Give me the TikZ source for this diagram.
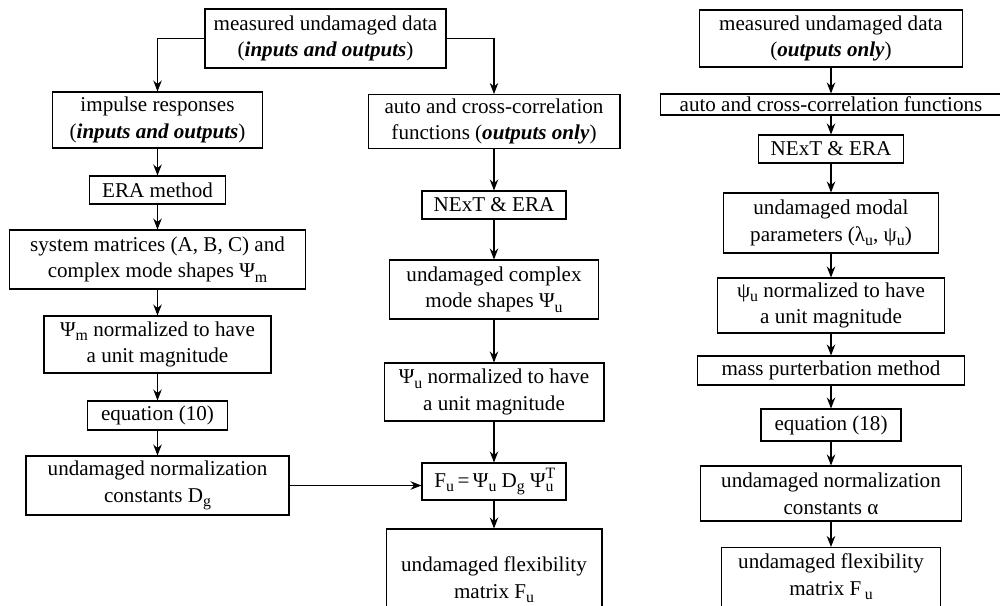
\documentclass[tikz,border=0pt]{standalone}
\usepackage{fontspec}
\setmainfont{Liberation Serif}
\usetikzlibrary{arrows.meta}
\newcommand{\bfit}[1]{\textbf{\textit{#1}}}
\newcommand{\lowsub}[1]{\raisebox{-0.45ex}{\fontsize{9}{9}\selectfont #1}}
\newcommand{\highsup}[1]{\raisebox{0.95ex}{\fontsize{9}{9}\selectfont #1}}
\begin{document}
\begin{tikzpicture}[x=0.02cm,y=-0.02cm,
    blk/.style 2 args={draw,line width=0.6pt,inner sep=0pt,align=center,
      minimum width=#1,minimum height=#2},
    link/.style={-{Stealth[length=2.2mm,width=1.7mm]},line width=0.6pt},
    every node/.append style={font=\fontsize{12}{15.2}\selectfont}]
  \useasboundingbox (0,0) rectangle (1000,605);
  % inputs and outputs
  \node[blk={4.82cm}{1.18cm}] (top) at (325.5,38.5) {measured undamaged data\\(\bfit{inputs and outputs})};
  \node[blk={4.20cm}{1.12cm}] (imp) at (157.5,120) {impulse responses\\(\bfit{inputs and outputs})};
  \node[blk={2.72cm}{0.56cm}] (era) at (157.5,190) {ERA method};
  \node[blk={5.92cm}{1.18cm}] (sys) at (157.5,259.5) {system matrices (A, B, C) and\\complex mode shapes Ψ\lowsub{m}};
  \node[blk={4.54cm}{1.14cm}] (psim) at (157.5,344.5) {Ψ\lowsub{m} normalized to have\\a unit magnitude};
  \node[blk={2.80cm}{0.58cm}] (eqten) at (157.5,415.5) {equation (10)};
  \node[blk={5.26cm}{1.18cm}] (dg) at (157.5,485.5) {undamaged normalization\\constants D\lowsub{g}};
  % outputs only, complex modes
  \node[blk={5.04cm}{1.08cm}] (auto) at (494,121.5) {auto and cross-correlation\\functions (\bfit{outputs only})};
  \node[blk={2.88cm}{0.56cm}] (next) at (494,205) {NExT \& ERA};
  \node[blk={4.18cm}{1.18cm}] (cms) at (494,289.5) {undamaged complex\\mode shapes Ψ\lowsub{u}};
  \node[blk={4.40cm}{1.16cm}] (psiu) at (494,392) {Ψ\lowsub{u} normalized to have\\a unit magnitude};
  \node[blk={2.88cm}{0.74cm}] (fu) at (494,481.5) {F\lowsub{u}\,=\,Ψ\lowsub{u} D\lowsub{g} Ψ\rlap{\highsup{T}}\lowsub{u}};
  \node[blk={4.32cm}{2.02cm}] (flex) at (494,579.5) {undamaged flexibility\\matrix F\lowsub{u}};
  % outputs only, mass perturbation
  \node[blk={5.26cm}{1.14cm}] (rtop) at (831,38.5) {measured undamaged data\\(\bfit{outputs only})};
  \node[blk={6.82cm}{0.42cm}] (rauto) at (831,104.5) {auto and cross-correlation functions};
  \node[blk={2.90cm}{0.56cm}] (rnext) at (831,149) {NExT \& ERA};
  \node[blk={4.30cm}{1.20cm}] (rmodal) at (831,223) {undamaged modal\\parameters (λ\lowsub{u}, ψ\lowsub{u})};
  \node[blk={4.54cm}{1.10cm}] (rpsi) at (831,305.5) {ψ\lowsub{u} normalized to have\\a unit magnitude};
  \node[blk={5.34cm}{0.58cm}] (mass) at (831,370.5) {mass purterbation method};
  \node[blk={2.80cm}{0.64cm}] (eqeight) at (831,425) {equation (18)};
  \node[blk={5.22cm}{1.10cm}] (ralpha) at (831,493.5) {undamaged normalization\\constants α};
  \node[blk={4.38cm}{1.18cm}] (rflex) at (831,577) {undamaged flexibility\\matrix F\,\lowsub{u}};
  % connectors
  \draw[link] (top.west) -| (imp.north);
  \draw[link] (top.east) -| (auto.north);
  \draw[link] (imp) -- (era);
  \draw[link] (era) -- (sys);
  \draw[link] (sys) -- (psim);
  \draw[link] (psim) -- (eqten);
  \draw[link] (eqten) -- (dg);
  \draw[link] (dg.east) -- (dg.east -| fu.west);
  \draw[link] (auto) -- (next);
  \draw[link] (next) -- (cms);
  \draw[link] (cms) -- (psiu);
  \draw[link] (psiu) -- (fu);
  \draw[link] (fu) -- (flex);
  \draw[link] (rtop) -- (rauto);
  \draw[link] (rauto) -- (rnext);
  \draw[link] (rnext) -- (rmodal);
  \draw[link] (rmodal) -- (rpsi);
  \draw[link] (rpsi) -- (mass);
  \draw[link] (mass) -- (eqeight);
  \draw[link] (eqeight) -- (ralpha);
  \draw[link] (ralpha) -- (rflex);
\end{tikzpicture}
\end{document}
